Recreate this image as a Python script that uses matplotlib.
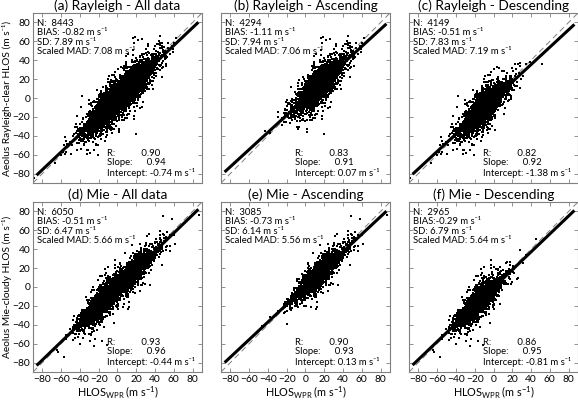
import numpy as np
import matplotlib.pyplot as plt

plt.rcParams['font.family'] = ['Lato', 'DejaVu Sans']
plt.rcParams['mathtext.fontset'] = 'custom'
plt.rcParams['mathtext.rm'] = 'Lato'
plt.rcParams['mathtext.it'] = 'Lato:italic'

titles = ['(a) Rayleigh - All data', '(b) Rayleigh - Ascending', '(c) Rayleigh - Descending',
          '(d) Mie - All data', '(e) Mie - Ascending', '(f) Mie - Descending']
n_obs = [8443, 4294, 4149, 6050, 3085, 2965]
bias = [-0.82, -1.11, -0.51, -0.51, -0.73, -0.29]
sd = [7.89, 7.94, 7.83, 6.47, 6.14, 6.79]
scaled_mad = [7.08, 7.06, 7.19, 5.66, 5.56, 5.64]
r_val = [0.90, 0.83, 0.82, 0.93, 0.90, 0.86]
slope = [0.94, 0.91, 0.92, 0.96, 0.93, 0.95]
intercept = [-0.74, 0.07, -1.38, -0.44, 0.13, -0.81]

x_centre = [15, -11, 15, -16]
x_spread = [12, 11, 12, 11]
unit = 'm s\u207b\u00b9'
ylabels = [f'Aeolus Rayleigh-clear HLOS ({unit})', f'Aeolus Mie-cloudy HLOS ({unit})']
ticks = [-80, -60, -40, -20, 0, 20, 40, 60, 80]

# the single points cannot be read off the picture, so the clouds are rebuilt
# from the statistics printed in each panel (fixed seed)
rng = np.random.default_rng(7)
clouds = []
for row in range(2):
    parts = []
    for k in range(2):
        i = row * 3 + 1 + k
        j = row * 2 + k
        x = x_centre[j] + x_spread[j] * rng.standard_t(8, n_obs[i]) / 1.15
        e = sd[i] * rng.standard_t(6, n_obs[i]) / 1.22
        y = slope[i] * x + intercept[i] + e
        parts.append((x, y))
    x_all = np.concatenate([parts[0][0], parts[1][0]])
    y_all = np.concatenate([parts[0][1], parts[1][1]])
    clouds += [(x_all, y_all), parts[0], parts[1]]

fig = plt.figure(figsize=(5.78, 4), dpi=100)
lefts = [33, 221, 409]
bottoms = [183, 372]
for i in range(6):
    row, col = divmod(i, 3)
    ax = fig.add_axes([lefts[col] / 578, 1 - bottoms[row] / 400, 169 / 578, 170 / 400])
    x, y = clouds[i]
    ax.scatter(x, y, s=1.2, marker='s', color='black', linewidths=0, zorder=2)
    ax.plot([-90, 90], [-90, 90], ls=(0, (6, 4)), color='gray', lw=0.7, zorder=1)
    xl = np.array([-85, 85])
    ax.plot(xl, slope[i] * xl + intercept[i], color='black', lw=2.2, zorder=3)
    ax.set_xlim(-90, 90)
    ax.set_ylim(-90, 90)
    ax.set_xticks(ticks)
    ax.set_yticks(ticks)
    ax.tick_params(direction='in', top=True, right=True, length=3, width=0.6,
                   color='gray', labelsize=7.4, pad=2,
                   labelleft=(col == 0), labelbottom=(row == 1))
    for sp in ax.spines.values():
        sp.set_color('gray')
        sp.set_linewidth(0.8)
    ax.set_title(titles[i], fontsize=9.8, pad=2)

    sep = '' if i == 5 else ' '
    stats = '\n'.join([f'N:  {n_obs[i]}',
                       f'BIAS:{sep}{bias[i]:.2f} {unit}',
                       f'SD: {sd[i]:.2f} {unit}',
                       f'Scaled MAD: {scaled_mad[i]:.2f} {unit}'])
    ax.text(0.025, 0.965, stats, fontsize=6.8, transform=ax.transAxes,
            va='top', linespacing=1.07, zorder=4)
    fit = '\n'.join([f'R:           {r_val[i]:.2f}',
                     f'Slope:      {slope[i]:.2f}',
                     f'Intercept: {intercept[i]:.2f} {unit}'])
    ax.text(0.44, 0.03, fit, fontsize=6.8, transform=ax.transAxes,
            va='bottom', linespacing=1.07, zorder=4)
    if col == 0:
        fig.text(7 / 578, 1 - (bottoms[row] - 85) / 400, ylabels[row], fontsize=7.3,
                 rotation=90, ha='center', va='center')
    if row == 1:
        ax.set_xlabel('HLOS$_{\\mathrm{WPR}}$ (m s$^{-1}$)', fontsize=7.8, labelpad=0)

fig.savefig('out.png', dpi=100)
